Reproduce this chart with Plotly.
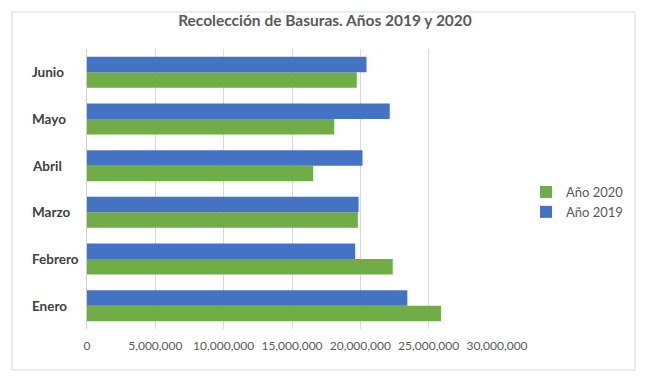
import plotly.graph_objects as go

months = ["Enero", "Febrero", "Marzo", "Abril", "Mayo", "Junio"]
anio_2020 = [25900000, 22370000, 19820000, 16550000, 18090000, 19740000]
anio_2019 = [23440000, 19620000, 19870000, 20160000, 22150000, 20450000]
x_ticks = [0, 5000000, 10000000, 15000000, 20000000, 25000000, 30000000]

W, H = 650, 379
ml, mr, mt, mb = 87, 153, 49, 50
pw, ph = W - ml - mr, H - mt - mb

font = "Lato, 'Open Sans', sans-serif"

fig = go.Figure()
fig.add_trace(go.Bar(y=months, x=anio_2020, orientation="h", name="Año 2020",
                     marker=dict(color="#70AD47", line=dict(width=0))))
fig.add_trace(go.Bar(y=months, x=anio_2019, orientation="h", name="Año 2019",
                     marker=dict(color="#4472C4", line=dict(width=0))))


def px_x(p):
    return (p - ml) / pw


def px_y(p):
    return (H - mb - p) / ph


annotations = [
    dict(x=px_x(30), xref="paper", y=m, yref="y", text="<b>%s</b>" % m,
         showarrow=False, xanchor="left", yanchor="middle",
         font=dict(size=13.5, color="#404040", family=font))
    for m in months
]

fig.update_layout(
    width=W, height=H,
    margin=dict(l=ml, r=mr, t=mt, b=mb, autoexpand=False),
    paper_bgcolor="white", plot_bgcolor="white",
    barmode="group", bargap=0.335, bargroupgap=0,
    font=dict(family=font, color="#595959", size=12),
    title=dict(text="<b>Recolección de Basuras. Años 2019 y 2020</b>",
               x=0.5, xref="container", xanchor="center",
               y=1 - 21 / H, yanchor="middle",
               font=dict(size=15.5, color="#595959", family=font)),
    xaxis=dict(range=[0, 30000000], tickvals=x_ticks, tickformat=",",
               showgrid=True, gridcolor="#D9D9D9", gridwidth=1,
               zeroline=False, showline=False, ticks="", tickangle=0,
               ticklabelstandoff=8, automargin=False,
               tickfont=dict(size=12, color="#595959"), fixedrange=True),
    yaxis=dict(categoryorder="array", categoryarray=months,
               showline=True, linecolor="#D0D0D0", linewidth=1,
               ticks="", showticklabels=False, automargin=False,
               showgrid=False, fixedrange=True),
    legend=dict(x=px_x(526), y=px_y(202), xanchor="left", yanchor="middle",
                font=dict(size=13, color="#595959"), itemwidth=30,
                bgcolor="rgba(0,0,0,0)", traceorder="normal"),
    annotations=annotations,
    shapes=[dict(type="rect", xref="paper", yref="paper",
                 x0=px_x(12), x1=px_x(635), y0=px_y(370), y1=px_y(12),
                 line=dict(color="#D9D9D9", width=1), layer="below")],
    showlegend=True,
)

fig.write_html("out.html", config={"displayModeBar": False},
               post_script="document.body.style.margin='0';")
